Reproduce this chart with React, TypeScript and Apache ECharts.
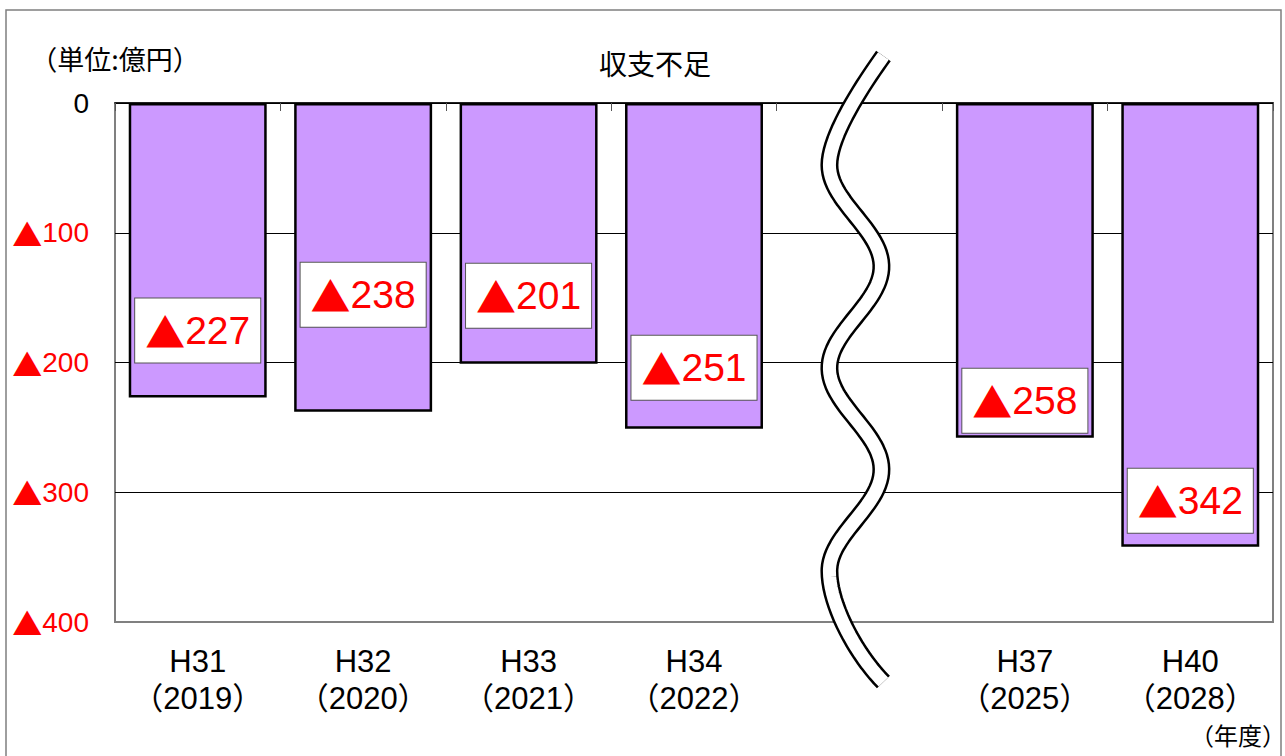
import React, { useEffect, useRef } from 'react';
import * as echarts from 'echarts';

// ---- data ----
const categories = ['H31\n（2019）', 'H32\n（2020）', 'H33\n（2021）', 'H34\n（2022）', '', 'H37\n（2025）', 'H40\n（2028）'];
const shortfall: (number | null)[] = [-227, -238, -201, -251, null, -258, -342];
const yMin = -400;
const yMax = 0;
const yStep = 100;
const titleText = '収支不足';
const unitText = '（単位:億円）';
const yearText = '（年度）';
const breakIndex = 4;

// ---- label placement style (gap between bar end and label box, px) ----
const labelGap = [35, 85, 36, 29, 0, 5, 14];

const FONT = "'Liberation Sans', 'Noto Sans CJK JP', sans-serif";
const CJK = "'Noto Sans CJK JP', sans-serif";

function cubic(p0: number[], p1: number[], p2: number[], p3: number[], n: number) {
  const pts: number[][] = [];
  for (let i = 0; i <= n; i++) {
    const t = i / n;
    const a = (1 - t) ** 3, b = 3 * (1 - t) ** 2 * t, c = 3 * (1 - t) * t * t, d = t ** 3;
    pts.push([a * p0[0] + b * p1[0] + c * p2[0] + d * p3[0], a * p0[1] + b * p1[1] + c * p2[1] + d * p3[1]]);
  }
  return pts;
}

function wavePoints(cx: number, top: number) {
  const amp = 26;
  const period = 203;
  const y0 = top + 62;
  const y1 = y0 + 2 * period;
  const pts: number[][] = [];
  cubic([cx + 28, top - 47], [cx + 8, top - 19], [cx - amp, top + 32], [cx - amp, y0], 20).forEach((p) => pts.push(p));
  for (let y = y0 + 4; y <= y1; y += 4) {
    pts.push([cx - amp * Math.cos((2 * Math.PI * (y - y0)) / period), y]);
  }
  cubic([cx - amp, y1], [cx - amp, y1 + 35], [cx + 2, y1 + 85], [cx + 28, y1 + 111], 20).forEach((p) => pts.push(p));
  return pts;
}

export default function App() {
  const ref = useRef<HTMLDivElement>(null);
  useEffect(() => {
    if (!ref.current) return;
    const chart = echarts.init(ref.current, undefined, { renderer: 'svg' });
    const option: any = {
      animation: false,
      backgroundColor: '#fff',
      title: {
        text: titleText,
        left: 650,
        textAlign: 'center',
        top: 44,
        textStyle: { fontSize: 28, fontWeight: 'normal', fontFamily: CJK, color: '#000' },
      },
      grid: {
        left: 115,
        right: 12,
        top: 103,
        bottom: 134,
        show: true,
        borderColor: '#808080',
        borderWidth: 2,
        backgroundColor: 'transparent',
      },
      xAxis: [
        {
          type: 'category',
          data: categories,
          position: 'bottom',
          axisLine: { show: false, onZero: false },
          axisTick: { show: false },
          axisLabel: {
            interval: 0,
            margin: 21,
            fontSize: 31,
            lineHeight: 37,
            color: '#000',
            fontFamily: FONT,
          },
        },
        {
          type: 'category',
          data: categories,
          position: 'top',
          axisLine: { show: true, onZero: false, lineStyle: { color: '#000', width: 1.5 } },
          axisTick: { show: true, inside: true, length: 8, lineStyle: { color: '#555', width: 1 } },
          axisLabel: { show: false },
        },
      ],
      yAxis: {
        type: 'value',
        min: yMin,
        max: yMax,
        interval: yStep,
        axisLine: { show: false },
        axisTick: { show: false },
        splitLine: {
          show: true,
          lineStyle: { color: ['#808080', '#000', '#000', '#000', '#000'], width: 1 },
        },
        axisLabel: {
          margin: 26,
          formatter: (v: number) => (v === 0 ? '{k|0}' : '{m|▲}{r|' + Math.abs(v) + '}'),
          rich: {
            k: { fontSize: 28, color: '#000', fontFamily: FONT },
            m: { fontSize: 30, color: '#ff0000', fontFamily: CJK },
            r: { fontSize: 28, color: '#ff0000', fontFamily: FONT },
          },
        },
      },
      series: [
        {
          type: 'bar',
          xAxisIndex: 0,
          barWidth: '83.4%',
          itemStyle: { color: '#CC99FF', borderColor: '#000', borderWidth: 2.5 },
          data: shortfall.map((v, i) =>
            v == null ? '-' : { value: v, label: { distance: labelGap[i] } }
          ),
          label: {
            show: true,
            position: 'insideBottom',
            formatter: (p: any) => '{m|▲}{t|' + Math.abs(p.value) + '}',
            backgroundColor: '#fff',
            borderColor: '#555',
            borderWidth: 1,
            padding: [12, 10, 12, 10],
            rich: {
              m: { fontSize: 40, lineHeight: 40, color: '#ff0000', fontFamily: CJK },
              t: { fontSize: 39, lineHeight: 40, color: '#ff0000', fontFamily: FONT },
            },
          },
        },
      ],
    };
    chart.setOption(option);

    const cx = chart.convertToPixel({ xAxisIndex: 0 }, breakIndex) as number;
    const top = chart.convertToPixel({ yAxisIndex: 0 }, yMax) as number;
    const pts = wavePoints(cx - 4, top);
    chart.setOption({
      graphic: [
        {
          type: 'rect',
          z: 0,
          silent: true,
          shape: { x: 6, y: 10, width: 1275, height: 780 },
          style: { fill: 'none', stroke: '#7f7f7f', lineWidth: 1.5 },
        },
        {
          type: 'text',
          z: 100,
          x: 115,
          y: 58,
          style: { text: unitText, fontSize: 27, fontFamily: CJK, fill: '#000', align: 'center', verticalAlign: 'middle' },
        },
        {
          type: 'text',
          z: 100,
          x: 1238,
          y: 734,
          style: { text: yearText, fontSize: 24, fontFamily: CJK, fill: '#000', align: 'center', verticalAlign: 'middle' },
        },
        {
          type: 'polyline',
          z: 100,
          silent: true,
          shape: { points: pts },
          style: { stroke: '#000', lineWidth: 18, fill: 'none', lineCap: 'butt', lineJoin: 'round' },
        },
        {
          type: 'polyline',
          z: 101,
          silent: true,
          shape: { points: pts },
          style: { stroke: '#fff', lineWidth: 13, fill: 'none', lineCap: 'butt', lineJoin: 'round' },
        },
      ],
    });
    return () => chart.dispose();
  }, []);
  return (
    <div
      ref={ref}
      style={{ position: 'fixed', left: 0, top: 0, width: 1285, height: 756, background: '#fff' }}
    />
  );
}
